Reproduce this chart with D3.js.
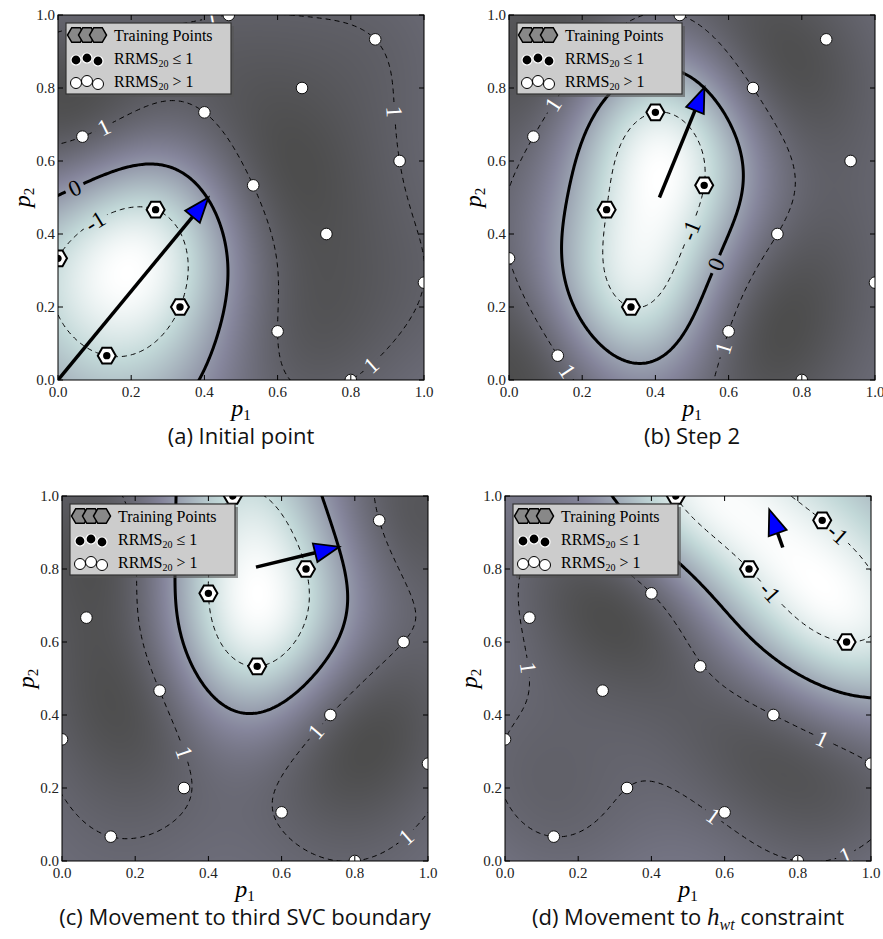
<!DOCTYPE html>
<html><head><meta charset="utf-8">
<script src="https://cdn.jsdelivr.net/npm/d3@7"></script>
<style>
body{margin:0;background:#fff;}
svg{display:block;}
</style></head>
<body>
<svg id="chart" width="883" height="939"></svg>
<script>
// ---------- data ----------
// sample locations in the (p1, p2) design space (16-point Latin hypercube;
// the sample at (0.2, 0.867) sits underneath the legend)
const sampleP1 = [0.0, 0.0667, 0.1333, 0.2, 0.2667, 0.3333, 0.4, 0.4667, 0.5333, 0.6, 0.6667, 0.7333, 0.8, 0.8667, 0.9333, 1.0];
const sampleP2 = [0.3333, 0.6667, 0.0667, 0.8667, 0.4667, 0.2, 0.7333, 1.0, 0.5333, 0.1333, 0.8, 0.4, 0.0, 0.9333, 0.6, 0.2667];
// samples with RRMS20 <= 1 (training points) in each stage
const goodA = [0, 2, 4, 5];
const goodB = [4, 5, 6, 8];
const goodC = [6, 7, 8, 10];
const goodD = [7, 10, 13, 14];
// optimizer step drawn as an arrow in each stage
const arrowTailP1 = [0.0, 0.411, 0.530, 0.759];
const arrowTailP2 = [0.0, 0.500, 0.805, 0.859];
const arrowTipP1 = [0.411, 0.534, 0.758, 0.722];
const arrowTipP2 = [0.500, 0.802, 0.861, 0.963];
// contour levels of the SVC decision function
const contourLevels = [-1, 0, 1];
// approximate positions of the inline contour labels: [level, p1, p2]
const labelsA = [[1, 0.128, 0.69], [0, 0.044, 0.525], [-1, 0.101, 0.438], [1, 0.921, 0.735], [1, 0.875, 0.018], [1, 0.42, 0.99]];
const labelsB = [[1, 0.124, 0.749], [1, 0.165, 0.027], [1, 0.584, 0.087], [-1, 0.506, 0.406], [0, 0.57, 0.315]];
const labelsC = [[1, 0.331, 0.295], [1, 0.696, 0.354], [1, 0.974, 0.03]];
const labelsD = [[-1, 0.909, 0.898], [-1, 0.722, 0.733], [1, 0.863, 0.327], [1, 0.554, 0.099], [1, 0.932, 0.012], [1, 0.016, 0.523]];
const tickValues = [0, 0.2, 0.4, 0.6, 0.8, 1.0];
const captionA = [["(a) Initial point", ""]];
const captionB = [["(b) Step 2", ""]];
const captionC = [["(c) Movement to third SVC boundary", ""]];
const captionD = [["(d) Movement to ", ""], ["h", "it"], ["wt", "sub"], [" constraint", ""]];
const legendLabels = ["Training Points", "RRMS", "RRMS"];

// SVC hyper-parameters
const gammaRBF = 12;
const penaltyC = 1e4;

// ---------- layout ----------
const W = 366, H = 365;
const frames = [
  {left: 58, top: 15, capY: 444},
  {left: 509, top: 15, capY: 444},
  {left: 62, top: 496, capY: 925},
  {left: 505, top: 496, capY: 925}
];
const serif = "'Liberation Serif','DejaVu Serif',serif";

const panels = [
  {good: goodA, labels: labelsA, caption: captionA},
  {good: goodB, labels: labelsB, caption: captionB},
  {good: goodC, labels: labelsC, caption: captionC},
  {good: goodD, labels: labelsD, caption: captionD}
];

// ---------- RBF support vector classifier (SMO) ----------
function kern(a, b) {
  const dx = a[0] - b[0], dy = a[1] - b[1];
  return Math.exp(-gammaRBF * (dx * dx + dy * dy));
}
function trainSVC(X, yl, C) {
  const n = X.length;
  const K = X.map(a => X.map(b => kern(a, b)));
  const alpha = new Array(n).fill(0);
  const f = new Array(n).fill(0);
  let Ei = 0, Ej = 0;
  for (let it = 0; it < 400000; it++) {
    let i = -1, j = -1; Ei = Infinity; Ej = -Infinity;
    for (let k = 0; k < n; k++) {
      const E = f[k] - yl[k];
      const inA = (yl[k] > 0 && alpha[k] < C) || (yl[k] < 0 && alpha[k] > 0);
      const inB = (yl[k] > 0 && alpha[k] > 0) || (yl[k] < 0 && alpha[k] < C);
      if (inA && E < Ei) { Ei = E; i = k; }
      if (inB && E > Ej) { Ej = E; j = k; }
    }
    if (i < 0 || j < 0 || Ej - Ei < 1e-10) break;
    const eta = Math.max(K[i][i] + K[j][j] - 2 * K[i][j], 1e-12);
    let t = (Ej - Ei) / eta;
    let lo = -Infinity, hi = Infinity;
    if (yl[i] > 0) { lo = Math.max(lo, -alpha[i]); hi = Math.min(hi, C - alpha[i]); }
    else { lo = Math.max(lo, alpha[i] - C); hi = Math.min(hi, alpha[i]); }
    if (yl[j] > 0) { lo = Math.max(lo, alpha[j] - C); hi = Math.min(hi, alpha[j]); }
    else { lo = Math.max(lo, -alpha[j]); hi = Math.min(hi, C - alpha[j]); }
    t = Math.min(hi, Math.max(lo, t));
    alpha[i] += yl[i] * t; alpha[j] -= yl[j] * t;
    for (let k = 0; k < n; k++) f[k] += t * (K[i][k] - K[j][k]);
  }
  let bs = 0, nb = 0;
  for (let k = 0; k < n; k++) if (alpha[k] > 1e-8 && alpha[k] < C - 1e-8) { bs += yl[k] - f[k]; nb++; }
  const b = nb ? bs / nb : -(Ei + Ej) / 2;
  const coef = alpha.map((a, k) => a * yl[k]);
  return p => { let s = b; for (let k = 0; k < n; k++) if (coef[k] !== 0) s += coef[k] * kern(p, X[k]); return s; };
}

// matplotlib "bone" colour map
function bone(t) {
  const r = t < 0.746032 ? 0.652778 * t / 0.746032 : 0.652778 + (t - 0.746032) / 0.253968 * 0.347222;
  const g = t < 0.365079 ? 0.319444 * t / 0.365079
          : t < 0.746032 ? 0.319444 + (t - 0.365079) / 0.380953 * 0.458334
          : 0.777778 + (t - 0.746032) / 0.253968 * 0.222222;
  const b = t < 0.365079 ? 0.444444 * t / 0.365079 : 0.444444 + (t - 0.365079) / 0.634921 * 0.555556;
  return [r, g, b];
}
const imgAlpha = 0.7;

const svg = d3.select("#chart");
const defs = svg.append("defs");

panels.forEach((P, pi) => {
  const F = frames[pi];
  const X = sampleP1.map((v, k) => [v, sampleP2[k]]);
  const yl = X.map((_, k) => P.good.includes(k) ? -1 : 1);
  const dec = trainSVC(X, yl, penaltyC);

  const x = d3.scaleLinear().domain([0, 1]).range([0, W]);
  const y = d3.scaleLinear().domain([0, 1]).range([H, 0]);
  const g = svg.append("g").attr("transform", `translate(${F.left},${F.top})`);

  defs.append("clipPath").attr("id", "clip" + pi)
    .append("rect").attr("width", W).attr("height", H);

  // ----- heat map of the decision function -----
  const vals = new Float64Array(W * H);
  let vmin = Infinity, vmax = -Infinity;
  for (let j = 0; j < H; j++) for (let i = 0; i < W; i++) {
    const v = dec([x.invert(i + 0.5), y.invert(j + 0.5)]);
    vals[j * W + i] = v;
    if (v < vmin) vmin = v; if (v > vmax) vmax = v;
  }
  const cv = document.createElement("canvas");
  cv.width = W; cv.height = H;
  const ctx = cv.getContext("2d");
  const im = ctx.createImageData(W, H);
  for (let k = 0; k < W * H; k++) {
    const c = bone((vmax - vals[k]) / (vmax - vmin));
    im.data[4 * k] = Math.round(255 * (imgAlpha * c[0] + 1 - imgAlpha));
    im.data[4 * k + 1] = Math.round(255 * (imgAlpha * c[1] + 1 - imgAlpha));
    im.data[4 * k + 2] = Math.round(255 * (imgAlpha * c[2] + 1 - imgAlpha));
    im.data[4 * k + 3] = 255;
  }
  ctx.putImageData(im, 0, 0);
  g.append("image").attr("width", W).attr("height", H)
    .attr("preserveAspectRatio", "none").attr("href", cv.toDataURL());

  // ----- contour lines -----
  const N = 241, g0 = -0.1, step = 0.005;
  const grid = new Float64Array(N * N);
  for (let j = 0; j < N; j++) for (let i = 0; i < N; i++)
    grid[j * N + i] = dec([g0 + i * step, g0 + j * step]);
  const cons = d3.contours().size([N, N]).thresholds(contourLevels)(Array.from(grid));
  const toPx = c => [x(g0 + (c[0] - 0.5) * step), y(g0 + (c[1] - 0.5) * step)];
  const proj = d3.geoTransform({point: function(a, b) { const p = toPx([a, b]); this.stream.point(p[0], p[1]); }});
  const path = d3.geoPath(proj);

  const maskId = "mask" + pi;
  const mask = defs.append("mask").attr("id", maskId).attr("maskUnits", "userSpaceOnUse")
    .attr("x", -20).attr("y", -20).attr("width", W + 40).attr("height", H + 40);
  mask.append("rect").attr("x", -20).attr("y", -20).attr("width", W + 40).attr("height", H + 40).attr("fill", "#fff");

  const clipped = g.append("g").attr("clip-path", `url(#clip${pi})`);
  const lines = clipped.append("g").attr("mask", `url(#${maskId})`);
  cons.forEach(c => {
    lines.append("path").attr("d", path(c)).attr("fill", "none")
      .attr("stroke", "#000")
      .attr("stroke-width", c.value === 0 ? 3 : 1)
      .attr("stroke-dasharray", c.value === 0 ? null : "5,4");
  });

  // ----- inline contour labels -----
  P.labels.forEach(([lev, lx, ly]) => {
    const c = cons.find(d => d.value === lev);
    const tx = x(lx), ty = y(ly);
    let best = null, bd = Infinity;
    c.coordinates.forEach(poly => poly.forEach(ring => {
      const pts = ring.map(toPx);
      pts.forEach((p, k) => {
        if (p[0] < -2 || p[0] > W + 2 || p[1] < -2 || p[1] > H + 2) return;
        const d = (p[0] - tx) ** 2 + (p[1] - ty) ** 2;
        if (d < bd) { bd = d; best = {pts, k}; }
      });
    }));
    if (!best) return;
    const pts = best.pts, m = pts.length - 1, k = best.k;
    const a = pts[((k - 4) % m + m) % m], b = pts[(k + 4) % m];
    let ang = Math.atan2(b[1] - a[1], b[0] - a[0]) * 180 / Math.PI;
    if (ang > 90) ang -= 180; if (ang < -90) ang += 180;
    const p = pts[k];
    const txt = clipped.append("text")
      .attr("transform", `translate(${p[0]},${p[1]}) rotate(${ang})`)
      .attr("text-anchor", "middle").attr("dy", "0.35em")
      .attr("font-family", serif).attr("font-size", 23)
      .attr("fill", lev === 1 ? "#fff" : "#000")
      .text(lev < 0 ? "-1" : String(lev));
    const tw = txt.node().getComputedTextLength();
    mask.append("rect").attr("x", -tw / 2 - 4).attr("y", -8).attr("width", tw + 8).attr("height", 16)
      .attr("transform", `translate(${p[0]},${p[1]}) rotate(${ang})`).attr("fill", "#000");
  });

  // ----- samples -----
  const hex = r => d3.range(6).map(k => [r * Math.cos(k * Math.PI / 3), r * Math.sin(k * Math.PI / 3)]);
  const hexPath = r => "M" + hex(r).map(p => p.join(",")).join("L") + "Z";
  X.forEach((pt, k) => {
    const cx = x(pt[0]), cy = y(pt[1]);
    if (P.good.includes(k)) {
      clipped.append("path").attr("d", hexPath(9)).attr("transform", `translate(${cx},${cy})`)
        .attr("fill", "#fff").attr("stroke", "#000").attr("stroke-width", 2);
      clipped.append("circle").attr("cx", cx).attr("cy", cy).attr("r", 4.6)
        .attr("fill", "#000").attr("stroke", "#fff").attr("stroke-width", 1.8);
    } else {
      clipped.append("circle").attr("cx", cx).attr("cy", cy).attr("r", 5.8)
        .attr("fill", "#fff").attr("stroke", "#111").attr("stroke-width", 1);
    }
  });

  // ----- step arrow -----
  const t0 = [x(arrowTailP1[pi]), y(arrowTailP2[pi])], t1 = [x(arrowTipP1[pi]), y(arrowTipP2[pi])];
  const dx = t1[0] - t0[0], dy = t1[1] - t0[1], len = Math.hypot(dx, dy);
  const ux = dx / len, uy = dy / len, hl = 25, hw = 9.5;
  const base = [t1[0] - ux * hl, t1[1] - uy * hl];
  clipped.append("line").attr("x1", t0[0]).attr("y1", t0[1]).attr("x2", base[0]).attr("y2", base[1])
    .attr("stroke", "#000").attr("stroke-width", 3.5);
  clipped.append("path")
    .attr("d", `M${t1[0]},${t1[1]}L${base[0] - uy * hw},${base[1] + ux * hw}L${base[0] + uy * hw},${base[1] - ux * hw}Z`)
    .attr("fill", "#0000ff").attr("stroke", "#000").attr("stroke-width", 1.8).attr("stroke-linejoin", "miter");

  // ----- frame, ticks, tick labels -----
  g.append("rect").attr("width", W).attr("height", H).attr("fill", "none").attr("stroke", "#000").attr("stroke-width", 1);
  tickValues.forEach(v => {
    g.append("line").attr("x1", x(v)).attr("x2", x(v)).attr("y1", H).attr("y2", H - 5).attr("stroke", "#000");
    g.append("line").attr("x1", x(v)).attr("x2", x(v)).attr("y1", 0).attr("y2", 5).attr("stroke", "#000");
    g.append("line").attr("y1", y(v)).attr("y2", y(v)).attr("x1", 0).attr("x2", 5).attr("stroke", "#000");
    g.append("line").attr("y1", y(v)).attr("y2", y(v)).attr("x1", W).attr("x2", W - 5).attr("stroke", "#000");
    g.append("text").attr("x", x(v)).attr("y", H + 17).attr("text-anchor", "middle")
      .attr("font-family", serif).attr("font-size", 15).attr("fill", "#222").text(v.toFixed(1));
    g.append("text").attr("x", -3).attr("y", y(v) + 5).attr("text-anchor", "end")
      .attr("font-family", serif).attr("font-size", 15).attr("fill", "#222").text(v.toFixed(1));
  });
  const xl = g.append("text").attr("x", W / 2).attr("y", H + 36).attr("text-anchor", "middle")
    .attr("font-family", serif).attr("font-size", 24);
  xl.append("tspan").attr("font-style", "italic").text("p");
  xl.append("tspan").attr("font-size", 15).attr("dy", 4).text("1");
  const yl2 = g.append("text").attr("transform", `translate(-28,${H / 2}) rotate(-90)`).attr("text-anchor", "middle")
    .attr("font-family", serif).attr("font-size", 24);
  yl2.append("tspan").attr("font-style", "italic").text("p");
  yl2.append("tspan").attr("font-size", 15).attr("dy", 4).text("2");

  // ----- legend -----
  const lg = g.append("g").attr("transform", "translate(8,8)");
  lg.append("rect").attr("x", 3).attr("y", 3).attr("width", 165).attr("height", 71).attr("fill", "#555").attr("opacity", 0.6);
  lg.append("rect").attr("width", 165).attr("height", 71).attr("fill", "#cccccc").attr("stroke", "#333").attr("stroke-width", 1.2);
  const mx = [10, 21, 32], myOff = [1, -1, 2];
  mx.forEach((m, k) => {
    lg.append("path").attr("d", hexPath(8.5)).attr("transform", `translate(${m},${12})`)
      .attr("fill", "#888").attr("stroke", "#000").attr("stroke-width", 1.5);
  });
  mx.forEach((m, k) => {
    lg.append("circle").attr("cx", m).attr("cy", 36 + myOff[k]).attr("r", 5)
      .attr("fill", "#000").attr("stroke", "#fff").attr("stroke-width", 1.2);
    lg.append("circle").attr("cx", m).attr("cy", 59 + myOff[k]).attr("r", 5.5)
      .attr("fill", "#fff").attr("stroke", "#000").attr("stroke-width", 1);
  });
  lg.append("text").attr("x", 48).attr("y", 18).attr("font-family", serif).attr("font-size", 16).text(legendLabels[0]);
  [["≤", 41], [">", 64]].forEach(([op, yy], k) => {
    const t = lg.append("text").attr("x", 48).attr("y", yy).attr("font-family", serif).attr("font-size", 16);
    t.append("tspan").text(legendLabels[k + 1]);
    t.append("tspan").attr("font-size", 10).attr("dy", 3).text("20");
    t.append("tspan").attr("dy", -3).text(" " + op + " 1");
  });

  // ----- caption -----
  const cap = svg.append("text").attr("x", F.left + W / 2).attr("y", F.capY).attr("text-anchor", "middle")
    .attr("font-family", "'Open Sans','Noto Sans',sans-serif").attr("font-size", 22).attr("fill", "#111");
  P.caption.forEach(([s, style]) => {
    const ts = cap.append("tspan").text(s);
    if (style === "it") ts.attr("font-style", "italic").attr("font-family", serif).attr("font-size", 25);
    if (style === "sub") ts.attr("font-style", "italic").attr("font-family", serif).attr("font-size", 16).attr("dy", 5);
    if (style === "" && s.startsWith(" ")) ts.attr("dy", -5);
  });
});
</script>
</body></html>
